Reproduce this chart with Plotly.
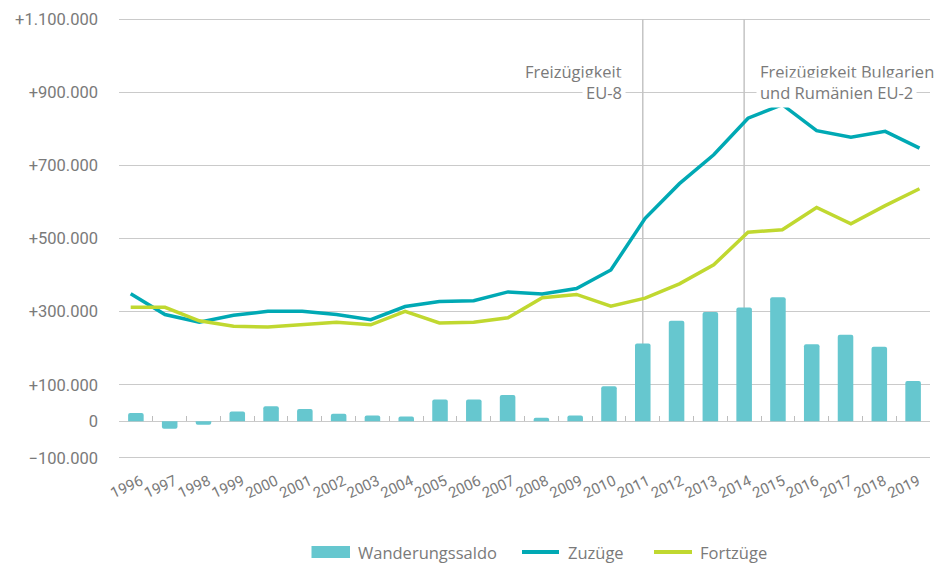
import plotly.graph_objects as go

years = ["1996", "1997", "1998", "1999", "2000", "2001", "2002", "2003", "2004", "2005", "2006", "2007",
         "2008", "2009", "2010", "2011", "2012", "2013", "2014", "2015", "2016", "2017", "2018", "2019"]
saldo = [23000, -20000, -9000, 27000, 41000, 34000, 21000, 16000, 13000, 60000, 60000, 72000,
         10000, 16000, 96000, 213000, 275000, 299000, 311000, 339000, 211000, 237000, 204000, 110000]
zuzuege = [349000, 292000, 271000, 290000, 301000, 301000, 292000, 278000, 314000, 328000, 330000, 354000,
           348000, 363000, 414000, 555000, 650000, 729000, 829000, 866000, 795000, 777000, 793000, 747000]
fortzuege = [312000, 312000, 275000, 260000, 258000, 264000, 271000, 264000, 301000, 269000, 271000, 283000,
             338000, 347000, 315000, 337000, 376000, 428000, 517000, 524000, 585000, 540000, 590000, 636000]

y_tickvals = [-100000, 0, 100000, 300000, 500000, 700000, 900000, 1100000]
y_ticktext = ["\u2212100.000", "0", "+100.000", "+300.000", "+500.000", "+700.000", "+900.000", "+1.100.000"]

markers = [("2011", ["Freizügigkeit", "EU-8"], "right"),
           ("2014", ["Freizügigkeit Bulgarien", "und Rumänien EU-2"], "left")]

C_BAR = "#66C7CF"
C_ZU = "#00A9B4"
C_FORT = "#C0D830"
GRID = "#cacaca"
TXT = "#7a7a7a"
FONT_TXT = "Open Sans"
FONT_TICK = "Roboto"

# plot-area geometry in pixels (for legend placement in paper units)
L, R, T, B = 119, 8, 18, 104
W, H = 938, 563
PW, PH = W - L - R, H - T - B


def px_x(p):
    return (p - L) / PW


def px_y(p):
    return (H - B - p) / PH


idx = list(range(len(years)))

fig = go.Figure()
fig.add_trace(go.Bar(x=years, y=saldo, name="Wanderungssaldo", marker_color=C_BAR,
                     marker_line_width=0, zorder=0, showlegend=False))
# reference lines (drawn behind the bars)
for yr, lines, side in markers:
    fig.add_trace(go.Scatter(x=[yr, yr], y=[0, y_tickvals[-1]], mode="lines", zorder=-1,
                             line=dict(color="#c4c4c4", width=1.5), showlegend=False, hoverinfo="skip"))
fig.add_trace(go.Scatter(x=idx, y=zuzuege, name="Zuzüge", mode="lines", xaxis="x2",
                         line=dict(color=C_ZU, width=3.5), showlegend=False))
fig.add_trace(go.Scatter(x=idx, y=fortzuege, name="Fortzüge", mode="lines", xaxis="x2",
                         line=dict(color=C_FORT, width=3.5), showlegend=False))

for yr, lines, side in markers:
    i = years.index(yr)
    if side == "right":
        xpos = i - 0.5
        xanchor = "right"
    else:
        xpos = i + 0.34
        xanchor = "left"
    fig.add_annotation(x=xpos, y=957000, xref="x", yref="y", text=lines[0], showarrow=False,
                       xanchor=xanchor, yanchor="middle", borderpad=3,
                       font=dict(family=FONT_TXT, size=16.5, color=TXT))
    fig.add_annotation(x=xpos, y=900000, xref="x", yref="y", text=lines[1], showarrow=False,
                       xanchor=xanchor, yanchor="middle", bgcolor="white", borderpad=3,
                       font=dict(family=FONT_TXT, size=16.5, color=TXT))

# legend (drawn manually to match the wide swatches)
legend_items = [("Wanderungssaldo", C_BAR, "bar", 311.5, 350, 357),
                ("Zuzüge", C_ZU, "line", 522, 559, 567),
                ("Fortzüge", C_FORT, "line", 654, 692, 699)]
ly = 552
for name, col, kind, s0, s1, tx in legend_items:
    if kind == "bar":
        fig.add_shape(type="rect", xref="paper", yref="paper", x0=px_x(s0), x1=px_x(s1),
                      y0=px_y(ly + 6), y1=px_y(ly - 6), fillcolor=col, line_width=0, layer="above")
    else:
        fig.add_shape(type="line", xref="paper", yref="paper", x0=px_x(s0), x1=px_x(s1),
                      y0=px_y(ly), y1=px_y(ly), line=dict(color=col, width=4), layer="above")
    fig.add_annotation(x=px_x(tx), y=px_y(ly), xref="paper", yref="paper", text=name, showarrow=False,
                       xanchor="left", yanchor="middle", borderpad=0,
                       font=dict(family=FONT_TXT, size=16.5, color=TXT))

fig.update_layout(
    width=W, height=H,
    margin=dict(l=L, r=R, t=T, b=B, autoexpand=False),
    plot_bgcolor="rgba(0,0,0,0)", paper_bgcolor="white",
    bargap=0.54, barcornerradius=2,
    showlegend=False,
    xaxis=dict(type="category", categoryorder="array", categoryarray=years, range=[-0.5, 23.5],
               showgrid=False, showline=False, ticks="",
               tickangle=-25, tickfont=dict(family=FONT_TICK, size=15, color=TXT),
               ticklabelshift=5, ticklabelstandoff=10, zeroline=False, automargin=False),
    xaxis2=dict(overlaying="x", range=[-0.341, 23.306], visible=False, anchor="y", automargin=False),
    xaxis3=dict(overlaying="x", anchor="free", position=103000 / 1206000, range=[-0.5, 23.5],
                tickvals=[k - 0.5 for k in range(25)], ticks="inside", ticklen=5, tickcolor="#bdbdbd",
                showline=True, linecolor="#bdbdbd", linewidth=1.5, showticklabels=False,
                showgrid=False, zeroline=False, automargin=False),
    yaxis=dict(range=[-103000, 1103000], tickvals=y_tickvals, ticktext=y_ticktext,
               showgrid=True, gridcolor=GRID, gridwidth=1, zeroline=False, showline=False,
               tickfont=dict(family=FONT_TICK, size=16.5, color=TXT), ticklabelstandoff=20,
               automargin=False),
)
fig.add_trace(go.Scatter(x=[0], y=[None], xaxis="x3", showlegend=False, hoverinfo="skip"))

fig.write_html("out.html", config={"displayModeBar": False},
               post_script="document.body.style.margin='0';")
